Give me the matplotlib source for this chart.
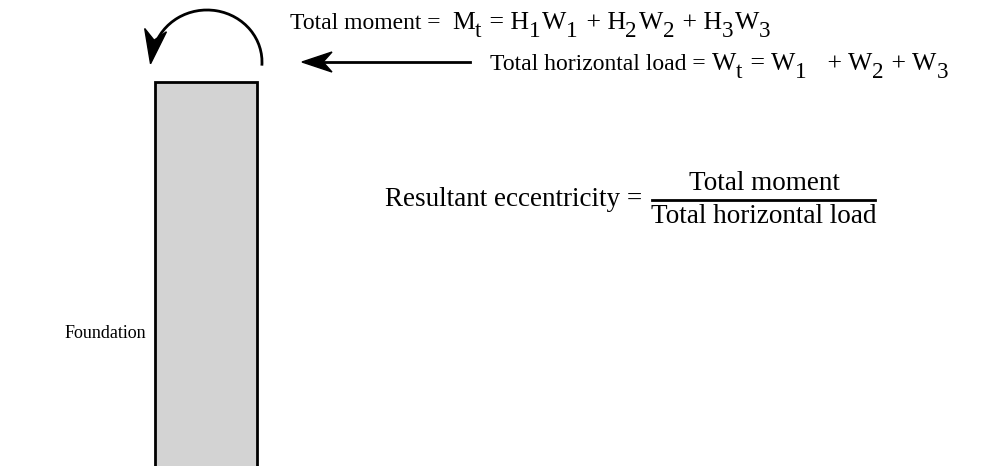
import matplotlib
matplotlib.use("Agg")
import numpy as np
import matplotlib.pyplot as plt
import matplotlib.patches as mpatches
import matplotlib.path as mpath
from matplotlib.transforms import Affine2D

plt.rcParams['font.family'] = ['Liberation Serif', 'DejaVu Serif']

# texts of the diagram, as (piece, kind): 'txt' plain words, 'sym' formula letters, 'sub' subscripts
moment_parts = [("Total moment =  ", 'txt'), ("M", 'sym'), ("t", 'sub'), (" = H", 'sym'), ("1", 'sub'),
                ("W", 'sym'), ("1", 'sub'), (" + H", 'sym'), ("2", 'sub'), ("W", 'sym'),
                ("2", 'sub'), (" + H", 'sym'), ("3", 'sub'), ("W", 'sym'), ("3", 'sub')]
load_parts = [("Total horizontal load = ", 'txt'), ("W", 'sym'), ("t", 'sub'), (" = W", 'sym'),
              ("1", 'sub'), ("   + W", 'sym'), ("2", 'sub'), (" + W", 'sym'), ("3", 'sub')]
ecc_label = "Resultant eccentricity ="
numerator = "Total moment"
denominator = "Total horizontal load"
base_label = "Foundation"

W, H = 987, 466
fig = plt.figure(figsize=(W / 100, H / 100), dpi=100)
ax = fig.add_axes([0, 0, 1, 1])
ax.set_xlim(0, W)
ax.set_ylim(H, 0)
ax.axis('off')
renderer = fig.canvas.get_renderer()

FS = 17      # words
FM = 18.5    # formula letters
SUB = 0.9    # subscript scale


def rich_text(x, y, parts):
    # lay pieces out left to right, subscripts lowered
    for txt, kind in parts:
        if kind == 'txt':
            size, dy = FS, 0
        elif kind == 'sym':
            size, dy = FM, 0
        else:
            size, dy = FM * SUB, FM * 0.42
        t = ax.text(x, y + dy, txt, fontsize=size, va='baseline', ha='left')
        x += t.get_window_extent(renderer).width
        if kind == 'sub':
            x += 1.5


def stealth(tip, direction, length, width, notch=0.3):
    d = np.asarray(direction, float)
    d = d / np.hypot(*d)
    n = np.array([-d[1], d[0]])
    tip = np.asarray(tip, float)
    back = tip - d * length
    pts = [tip, back + n * width / 2, tip - d * length * (1 - notch), back - n * width / 2]
    ax.add_patch(mpatches.Polygon(pts, closed=True, facecolor='black', edgecolor='black',
                                  linewidth=1))


# foundation column (open at the bottom)
col = mpatches.Rectangle((155, 82), 102, 400, facecolor='#d3d3d3',
                         edgecolor='black', linewidth=2)
ax.add_patch(col)

# moment arrow: arc over the top of the column
cx, cy, rx, ry = 207, 62, 55, 52
t_end = 172
arc = mpath.Path.arc(-4, t_end - 8)
arc = arc.transformed(Affine2D().scale(rx, -ry).translate(cx, cy))
ax.add_patch(mpatches.PathPatch(arc, facecolor='none', edgecolor='black', linewidth=2))
te = np.radians(t_end)
tip = (cx + rx * np.cos(te) - 2, cy - ry * np.sin(te) + 9)
stealth(tip, (-0.15, 1), 34, 22)

# horizontal load arrow
ax.plot([318, 470], [62, 62], color='black', linewidth=2)
stealth((302, 62), (-1, 0), 30, 20)

rich_text(290, 29, moment_parts)
rich_text(490, 70, load_parts)

# eccentricity fraction
FF = 19.5
ax.text(385, 206, ecc_label, fontsize=FF, va='baseline', ha='left')
ax.plot([652, 875], [200, 200], color='black', linewidth=2)
ax.text(764, 190, numerator, fontsize=FF, va='baseline', ha='center')
ax.text(764, 223, denominator, fontsize=FF, va='baseline', ha='center')

ax.text(65, 338, base_label, fontsize=13, va='baseline', ha='left')

fig.savefig('out.png', dpi=100)
